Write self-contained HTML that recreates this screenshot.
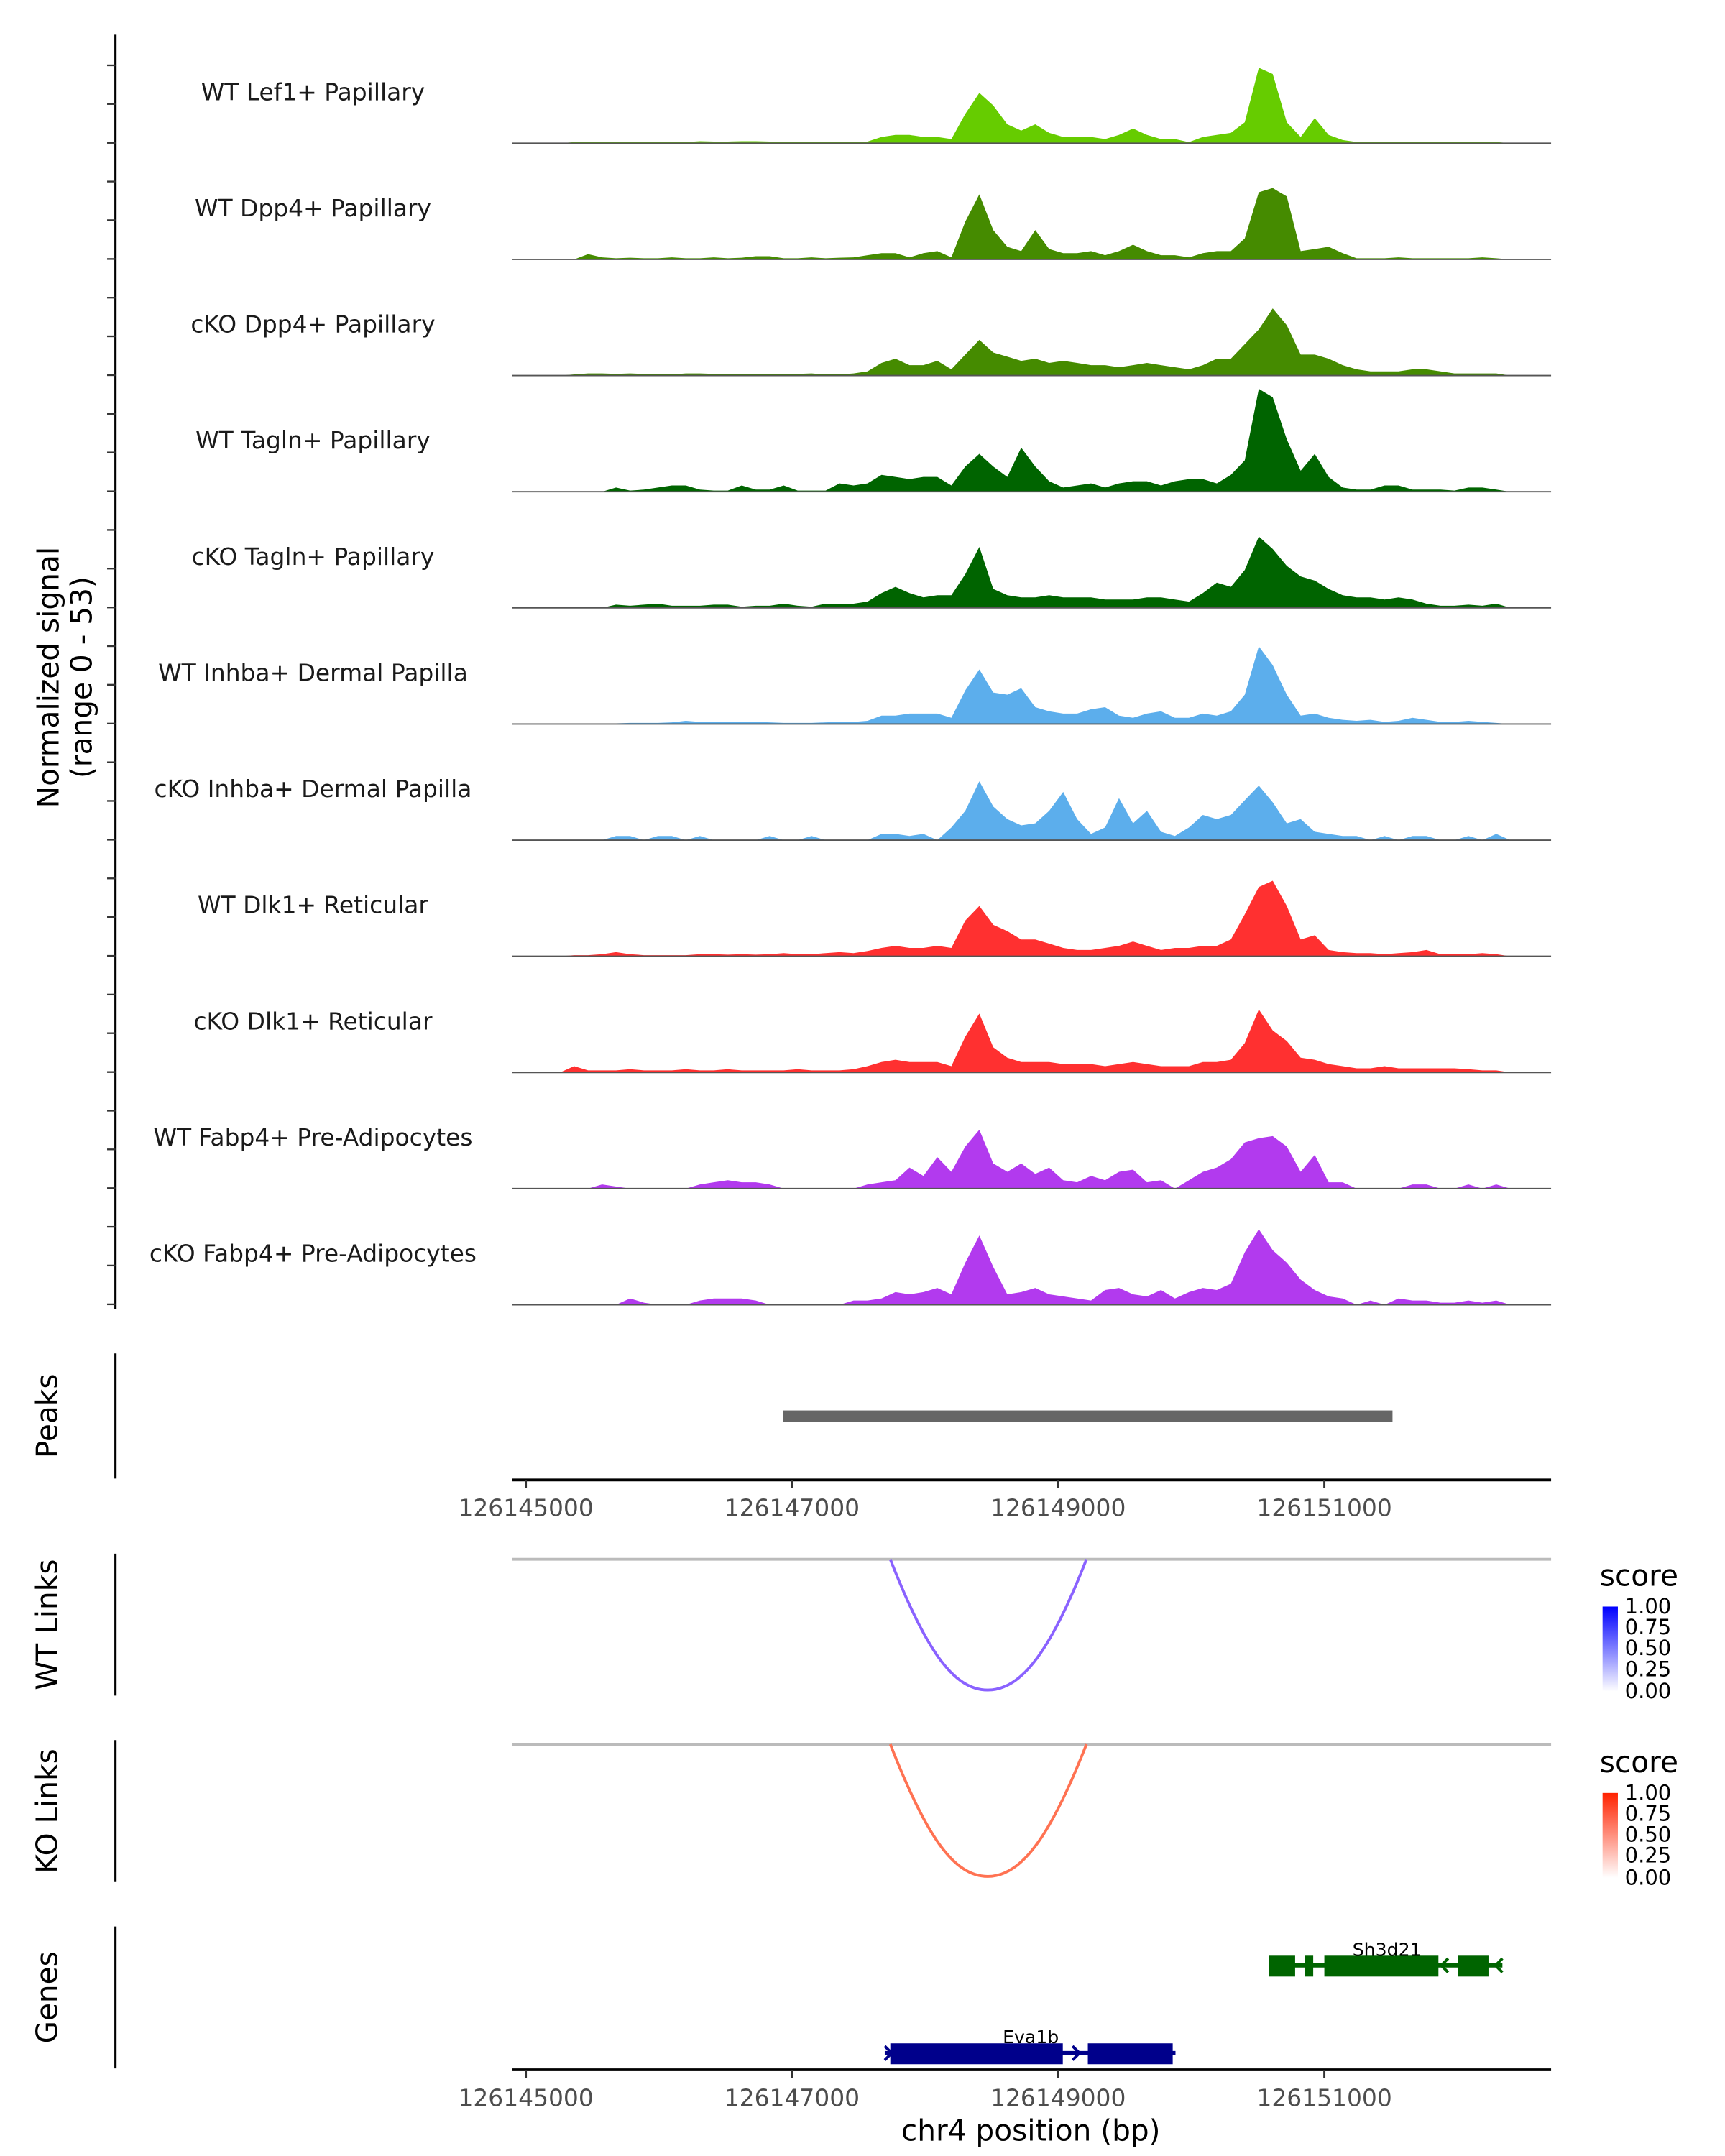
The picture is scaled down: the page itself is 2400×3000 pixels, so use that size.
<!DOCTYPE html>
<html><head><meta charset="utf-8">
<style>
html,body{margin:0;padding:0;background:#fff;}
svg{display:block;font-family:"DejaVu Sans","Liberation Sans",sans-serif;}
</style></head>
<body>
<svg id="fig" width="2400" height="3000" viewBox="0 0 1240 1550" xmlns="http://www.w3.org/2000/svg">
<defs>
<linearGradient id="gBlue" x1="0" y1="1" x2="0" y2="0"><stop offset="0" stop-color="#ffffff"/><stop offset="1" stop-color="#0000ff"/></linearGradient>
<linearGradient id="gRed" x1="0" y1="1" x2="0" y2="0"><stop offset="0" stop-color="#ffffff"/><stop offset="1" stop-color="#ff2200"/></linearGradient>
</defs>
<g id="tracks"></g>
<line x1="83" y1="25" x2="83" y2="941" stroke="#000" stroke-width="1.6"/>
<g id="yticks"></g>
<text transform="translate(42,487) rotate(-90)" text-anchor="middle" font-size="21" fill="#000">Normalized signal</text>
<text transform="translate(66,487) rotate(-90)" text-anchor="middle" font-size="21" fill="#000">(range 0 - 53)</text>

<!-- Peaks -->
<line x1="83" y1="973" x2="83" y2="1063" stroke="#000" stroke-width="1.6"/>
<text transform="translate(41,1018) rotate(-90)" text-anchor="middle" font-size="21">Peaks</text>
<rect id="peakbar" x="563" y="1014" width="438" height="8" fill="#666"/>
<g id="xaxis1"></g>

<!-- WT links -->
<line x1="83" y1="1117" x2="83" y2="1219" stroke="#000" stroke-width="1.6"/>
<text transform="translate(41,1168) rotate(-90)" text-anchor="middle" font-size="21">WT Links</text>
<line x1="368" y1="1121" x2="1115" y2="1121" stroke="#bbb" stroke-width="2"/>
<path d="M640,1121 C665,1185 685,1215 710,1215 C735,1215 756,1185 781,1121" fill="none" stroke="#8a62ff" stroke-width="2"/>
<g>
<text x="1150" y="1140" font-size="21">score</text>
<rect x="1152" y="1155" width="11" height="61" fill="url(#gBlue)"/>
<g font-size="15"><text x="1168" y="1160">1.00</text><text x="1168" y="1175">0.75</text><text x="1168" y="1190">0.50</text><text x="1168" y="1205">0.25</text><text x="1168" y="1221">0.00</text></g>
</g>

<!-- KO links -->
<line x1="83" y1="1251" x2="83" y2="1353" stroke="#000" stroke-width="1.6"/>
<text transform="translate(41,1302) rotate(-90)" text-anchor="middle" font-size="21">KO Links</text>
<line x1="368" y1="1254" x2="1115" y2="1254" stroke="#bbb" stroke-width="2"/>
<path d="M640,1254 C665,1318 685,1349 710,1349 C735,1349 756,1318 781,1254" fill="none" stroke="#ff7252" stroke-width="2"/>
<g>
<text x="1150" y="1274" font-size="21">score</text>
<rect x="1152" y="1289" width="11" height="61" fill="url(#gRed)"/>
<g font-size="15"><text x="1168" y="1294">1.00</text><text x="1168" y="1309">0.75</text><text x="1168" y="1324">0.50</text><text x="1168" y="1339">0.25</text><text x="1168" y="1355">0.00</text></g>
</g>

<!-- Genes -->
<line x1="83" y1="1385" x2="83" y2="1487" stroke="#000" stroke-width="1.6"/>
<text transform="translate(41,1436) rotate(-90)" text-anchor="middle" font-size="21">Genes</text>
<g>
<line x1="912" y1="1413" x2="1080" y2="1413" stroke="#006400" stroke-width="3"/>
<rect x="912" y="1406" width="19" height="15" fill="#006400"/>
<rect x="938" y="1406" width="6" height="15" fill="#006400"/>
<rect x="952" y="1406" width="82" height="15" fill="#006400"/>
<rect x="1048" y="1406" width="22" height="15" fill="#006400"/>
<path d="M1041,1408 L1036,1413 L1041,1418 M1080,1408 L1075,1413 L1080,1418" stroke="#006400" stroke-width="2" fill="none"/>
<text x="997" y="1406" text-anchor="middle" font-size="13">Sh3d21</text>
</g>
<g>
<line x1="636" y1="1476" x2="845" y2="1476" stroke="#00008b" stroke-width="3"/>
<rect x="640" y="1469" width="124" height="15" fill="#00008b"/>
<rect x="782" y="1469" width="61" height="15" fill="#00008b"/>
<path d="M636,1471 L641,1476 L636,1481 M771,1471 L776,1476 L771,1481" stroke="#00008b" stroke-width="2" fill="none"/>
<text x="741" y="1469" text-anchor="middle" font-size="13">Eva1b</text>
</g>
<g id="xaxis2"></g>
<text x="741" y="1539" text-anchor="middle" font-size="21">chr4 position (bp)</text>
</svg>
<script>
const regionStart = 126144890;
const binWidth = 105;
const xTicks = [126145000, 126147000, 126149000, 126151000];
const trackNames = ["WT Lef1+ Papillary","WT Dpp4+ Papillary","cKO Dpp4+ Papillary","WT Tagln+ Papillary","cKO Tagln+ Papillary","WT Inhba+ Dermal Papilla","cKO Inhba+ Dermal Papilla","WT Dlk1+ Reticular","cKO Dlk1+ Reticular","WT Fabp4+ Pre-Adipocytes","cKO Fabp4+ Pre-Adipocytes"];
const trackColors = ["#66cc00","#458b00","#458b00","#006400","#006400","#5caeec","#5caeec","#ff3030","#ff3030","#b23aee","#b23aee"];
const sigLef1WT = [0,0,0,0,0.5,0.5,0.5,0.5,0.5,0.5,0.5,0.5,0.5,1,0.8,0.8,1,1,0.8,0.8,0.5,0.5,0.8,0.8,0.6,0.8,3,4,4,3,3,2,14,24,18,9,6,9,5,3,3,3,2,4,7,4,2,2,0.5,3,4,5,10,36,33,10,3,12,4,1.5,0.6,0.6,0.8,0.6,0.6,0.8,0.6,0.6,0.8,0.6,0.6,0,0,0,0];
const sigDpp4WT = [0,0,0,0,0,2.5,1,0.5,0.8,0.5,0.5,1,0.5,0.5,1,0.5,0.8,1.5,1.5,0.5,0.5,1,0.5,0.8,1,2,3,3,1,3,4,1,18,31,14,6,4,14,5,3,3,4,2,4,7,4,2,2,1,3,4,4,10,32,34,30,4,5,6,3,0.5,0.5,0.5,1,0.5,0.5,0.5,0.5,0.5,1,0.5,0,0,0,0];
const sigDpp4KO = [0,0,0,0,0.5,1,1,0.8,1,0.8,0.8,0.5,1,1,0.8,0.5,0.8,0.8,0.5,0.5,0.8,1,0.5,0.5,1,2,6,8,5,5,7,3,10,17,11,9,7,8,6,7,6,5,5,4,5,6,5,4,3,5,8,8,15,22,32,24,10,10,8,5,3,2,2,2,3,3,2,1,1,1,1,0,0,0,0];
const sigTaglnWT = [0,0,0,0,0,0,0,2,0.5,1,2,3,3,1,0.5,0.5,3,1,1,3,0.5,0.5,0.5,4,3,4,8,7,6,7,7,3,12,18,12,7,21,12,5,2,3,4,2,4,5,5,3,5,6,6,4,8,15,49,45,25,10,18,7,2,1,1,3,3,1,1,1,0.5,2,2,1,0,0,0,0];
const sigTaglnKO = [0,0,0,0,0,0,0,1.5,1,1.5,2,1,1,1,1.5,1.5,0.5,1,1,2,1,0.5,2,2,2,3,7,10,7,5,6,6,16,29,9,6,5,5,6,5,5,5,4,4,4,5,5,4,3,7,12,10,18,34,28,20,15,13,9,6,5,5,4,5,4,2,1,1,1.5,1,2,0,0,0,0];
const sigInhbaWT = [0,0,0,0,0.3,0.3,0.3,0.3,0.5,0.5,0.5,0.8,1.5,1,1,1,1,1,0.8,0.5,0.5,0.5,0.8,1,1,1.5,4,4,5,5,5,3,16,26,15,14,17,8,6,5,5,7,8,4,3,5,6,3,3,5,4,6,14,37,28,14,4,5,3,2,1.5,2,1,1.5,3,2,1,1,1.5,1,0.5,0,0,0,0];
const sigInhbaKO = [0,0,0,0,0,0,0,2,2,0,2,2,0,2,0,0,0,0,2,0,0,2,0,0,0,0,3,3,2,3,0,6,14,28,16,10,7,8,14,23,10,3,6,20,8,14,4,2,6,12,10,12,19,26,18,8,10,4,3,2,2,0,2,0,2,2,0,0,2,0,3,0,0,0,0];
const sigDlk1WT = [0,0,0,0,0.5,0.5,1,2,1,0.5,0.5,0.5,0.5,1,1,0.8,1,0.8,1,1.5,1,1,1.5,2,1.5,2.5,4,5,4,4,5,4,17,24,15,12,8,8,6,4,3,3,4,5,7,5,3,4,4,5,5,8,20,33,36,24,8,10,3,2,1.5,1.5,1,1.5,2,3,1,1,1,1.5,1,0,0,0,0];
const sigDlk1KO = [0,0,0,0,3,1,1,1,1.5,1,1,1,1.5,1,1,1.5,1,1,1,1,1.5,1,1,1,1.5,3,5,6,5,5,5,3,17,28,12,7,5,5,5,4,4,4,3,4,5,4,3,3,3,5,5,6,14,30,20,15,7,6,4,3,2,2,3,2,2,2,2,2,1.5,1,1,0,0,0,0];
const sigFabp4WT = [0,0,0,0,0,0,2,1,0,0,0,0,0,2,3,4,3,3,2,0,0,0,0,0,0,2,3,4,10,6,15,8,20,28,12,8,12,7,10,4,3,6,4,8,9,3,4,0,4,8,10,14,22,24,25,20,8,16,3,3,0,0,0,0,2,2,0,0,2,0,2,0,0,0,0];
const sigFabp4KO = [0,0,0,0,0,0,0,0,3,1,0,0,0,2,3,3,3,2,0,0,0,0,0,0,2,2,3,6,5,6,8,5,20,33,18,5,6,8,5,4,3,2,7,8,5,4,7,3,6,8,7,10,25,36,26,20,12,7,4,3,0,2,0,3,2,2,1,1,2,1,2,0,0,0,0];
const allSignals = [sigLef1WT,sigDpp4WT,sigDpp4KO,sigTaglnWT,sigTaglnKO,sigInhbaWT,sigInhbaKO,sigDlk1WT,sigDlk1KO,sigFabp4WT,sigFabp4KO];
const yMax = 53;

const NS = "http://www.w3.org/2000/svg";
const pxPerBp = (952 - 378) / 6000;
function xScale(bp){ return 378 + (bp - 126145000) * pxPerBp; }
const trackStep = 83.5, trackH = 80;
function baseY(i){ return 103 + i * trackStep; }
function yScale(v, i){ return baseY(i) - v / yMax * trackH; }

const tg = document.getElementById('tracks');
allSignals.forEach((vals, i) => {
  const by = baseY(i);
  let d = "M" + xScale(regionStart).toFixed(1) + "," + by;
  vals.forEach((v, j) => {
    const xc = xScale(regionStart + (j + 0.5) * binWidth);
    d += " L" + xc.toFixed(1) + "," + yScale(v, i).toFixed(1);
  });
  d += " L" + xScale(regionStart + vals.length * binWidth).toFixed(1) + "," + by + " Z";
  const p = document.createElementNS(NS, 'path');
  p.setAttribute('d', d);
  p.setAttribute('fill', trackColors[i]);
  
  
  tg.appendChild(p);
  const bl = document.createElementNS(NS, 'line');
  bl.setAttribute('x1', 368); bl.setAttribute('x2', 1115);
  bl.setAttribute('y1', by); bl.setAttribute('y2', by);
  bl.setAttribute('stroke', '#555'); bl.setAttribute('stroke-width', '1');
  
  
  tg.appendChild(bl);
  const t = document.createElementNS(NS, 'text');
  t.setAttribute('x', 225); t.setAttribute('y', by - 31);
  t.setAttribute('text-anchor', 'middle'); t.setAttribute('font-size', '17');
  t.setAttribute('fill', '#1a1a1a');
  t.textContent = trackNames[i];
  
  
  tg.appendChild(t);
});

const yt = document.getElementById('yticks');
for (let y = 47; y <= 940; y += trackStep / 3) {
  const l = document.createElementNS(NS, 'line');
  l.setAttribute('x1', 77); l.setAttribute('x2', 83);
  l.setAttribute('y1', y.toFixed(1)); l.setAttribute('y2', y.toFixed(1));
  l.setAttribute('stroke', '#333'); l.setAttribute('stroke-width', '1.2');
  
  
  yt.appendChild(l);
}

function drawXAxis(gid, y) {
  const g = document.getElementById(gid);
  const ax = document.createElementNS(NS, 'line');
  ax.setAttribute('x1', 368); ax.setAttribute('x2', 1115);
  ax.setAttribute('y1', y); ax.setAttribute('y2', y);
  ax.setAttribute('stroke', '#000'); ax.setAttribute('stroke-width', '2');
  
  
  g.appendChild(ax);
  xTicks.forEach(tv => {
    const x = xScale(tv);
    const tk = document.createElementNS(NS, 'line');
    tk.setAttribute('x1', x); tk.setAttribute('x2', x);
    tk.setAttribute('y1', y); tk.setAttribute('y2', y + 6);
    tk.setAttribute('stroke', '#333'); tk.setAttribute('stroke-width', '1.5');
    
    
    g.appendChild(tk);
    const tx = document.createElementNS(NS, 'text');
    tx.setAttribute('x', x); tx.setAttribute('y', y + 26);
    tx.setAttribute('text-anchor', 'middle'); tx.setAttribute('font-size', '17');
    tx.setAttribute('fill', '#4d4d4d');
    tx.textContent = String(tv);
    
    
    g.appendChild(tx);
  });
}
drawXAxis('xaxis1', 1064);
drawXAxis('xaxis2', 1488);
</script>
</body></html>
